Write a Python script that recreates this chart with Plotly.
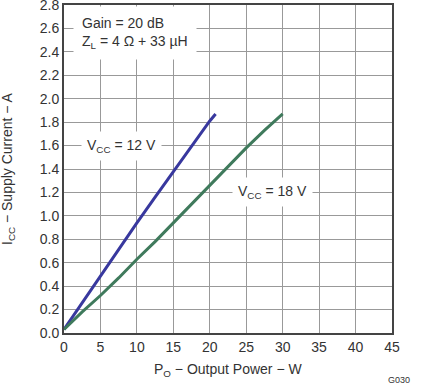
import plotly.graph_objects as go

x12 = [0, 2.5, 5, 7.5, 10, 12.5, 15, 17.5, 20, 20.8]
y12 = [0.03, 0.26, 0.48, 0.71, 0.94, 1.16, 1.38, 1.60, 1.81, 1.87]
x18 = [0, 2.5, 5, 7.5, 10, 12.5, 15, 17.5, 20, 22.5, 25, 27.5, 30]
y18 = [0.03, 0.18, 0.32, 0.47, 0.63, 0.78, 0.94, 1.10, 1.26, 1.42, 1.58, 1.73, 1.87]

xticks = [0, 5, 10, 15, 20, 25, 30, 35, 40, 45]
yticks = [round(0.2 * i, 1) for i in range(15)]

font = "Liberation Sans, Arial, sans-serif"
txt = "#333333"
fig = go.Figure()
fig.add_trace(go.Scatter(x=x12, y=y12, mode="lines", line=dict(color="#38389e", width=3), showlegend=False))
fig.add_trace(go.Scatter(x=x18, y=y18, mode="lines", line=dict(color="#3f7a5c", width=3), showlegend=False))

fig.update_layout(
    width=421, height=383,
    margin=dict(l=64, r=29, t=5, b=50),
    plot_bgcolor="white", paper_bgcolor="white",
    font=dict(family=font, size=14, color=txt),
    xaxis=dict(range=[0, 45], tickvals=xticks, ticktext=[str(v) for v in xticks],
               showgrid=True, gridcolor="#999999", gridwidth=1,
               showline=True, linecolor="#444444", linewidth=2, mirror=True,
               ticks="", zeroline=False, automargin=False, ticklabeloverflow="allow"),
    yaxis=dict(range=[0, 2.8], tickvals=yticks, ticktext=[f"{v:.1f}" for v in yticks],
               showgrid=True, gridcolor="#999999", gridwidth=1,
               showline=True, linecolor="#444444", linewidth=2, mirror=True,
               ticks="", zeroline=False, automargin=False, ticklabeloverflow="allow"),
)

fig.add_annotation(x=0.5, y=0, xref="paper", yref="paper", xanchor="center", yanchor="middle",
                   yshift=-37, text="P<sub>O</sub> − Output Power − W", showarrow=False,
                   font=dict(size=14, color=txt))
fig.add_annotation(x=0, y=0.5, xref="paper", yref="paper", xanchor="center", yanchor="middle",
                   xshift=-56, textangle=-90, text="I<sub>CC</sub> − Supply Current − A",
                   showarrow=False, font=dict(size=14, color=txt))

fig.add_annotation(x=1.2, y=2.56, xref="x", yref="y", xanchor="left", yanchor="middle",
                   text="Gain = 20 dB<br>Z<sub>L</sub> = 4 Ω + 33 µH", align="left",
                   showarrow=False, bgcolor="white", borderpad=8, font=dict(size=14, color=txt))
fig.add_annotation(x=2.3, y=1.6, xref="x", yref="y", xanchor="left", yanchor="middle",
                   text="V<sub>CC</sub> = 12 V", showarrow=False, bgcolor="white", borderpad=5,
                   font=dict(size=14, color=txt))
fig.add_annotation(x=23.0, y=1.2, xref="x", yref="y", xanchor="left", yanchor="middle",
                   text="V<sub>CC</sub> = 18 V", showarrow=False, bgcolor="white", borderpad=5,
                   font=dict(size=14, color=txt))
fig.add_annotation(x=1, y=0, xref="paper", yref="paper", xanchor="left", yanchor="top",
                   xshift=-6, yshift=-40, text="G030", showarrow=False,
                   font=dict(size=9, color=txt))

fig.write_html("out.html", config={"displayModeBar": False},
               post_script="document.body.style.margin='0';document.body.style.overflow='hidden';")
